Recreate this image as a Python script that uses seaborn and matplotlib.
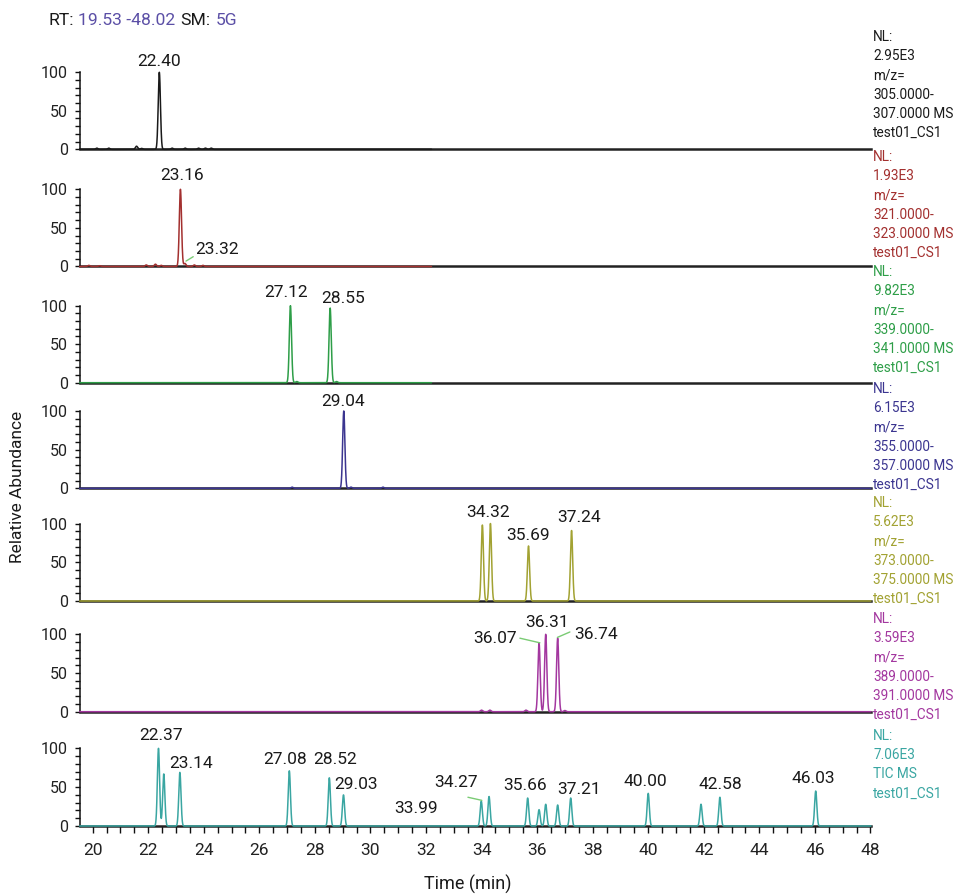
import numpy as np
import pandas as pd
import matplotlib
matplotlib.use("Agg")
import matplotlib.pyplot as plt
from matplotlib.ticker import MultipleLocator
import seaborn as sns

# ---- run window ----
rt_start, rt_end = 19.53, 48.02
smoothing = "5G"

# ---- peak tables: retention time (min) and relative abundance (%) ----
rt_305 = [20.15, 20.58, 21.58, 21.76, 22.40, 22.86, 23.33, 23.81, 24.06, 24.27]
ab_305 = [1.5, 1.5, 4.0, 1.2, 100, 1.5, 1.5, 1.5, 1.5, 1.5]

rt_321 = [19.86, 20.25, 21.93, 22.26, 22.47, 23.16, 23.32, 23.66, 23.97]
ab_321 = [1.5, 1.0, 2.0, 3.0, 1.5, 100, 4.0, 2.0, 1.5]

rt_339 = [27.12, 27.35, 28.55, 28.78]
ab_339 = [100, 1.5, 97, 1.5]

rt_355 = [27.18, 29.04, 29.30, 30.45]
ab_355 = [1.5, 100, 1.5, 1.5]

rt_373 = [34.03, 34.32, 35.69, 37.24]
ab_373 = [98, 100, 71, 91]

rt_389 = [34.00, 34.30, 35.60, 36.07, 36.31, 36.74, 37.00]
ab_389 = [2.0, 2.0, 2.0, 89, 100, 95, 1.5]

rt_tic = [22.37, 22.56, 23.14, 27.08, 28.52, 29.03, 33.99, 34.27, 35.66,
          36.07, 36.31, 36.74, 37.21, 40.00, 41.90, 42.58, 46.03]
ab_tic = [100, 67, 69, 71, 62, 40, 32, 38, 36, 21, 28, 27, 36, 42, 28, 37, 45]

# labelled peaks per trace
lab_305 = [22.40]
lab_321 = [23.16, 23.32]
lab_339 = [27.12, 28.55]
lab_355 = [29.04]
lab_373 = [34.32, 35.69, 37.24]
lab_389 = [36.07, 36.31, 36.74]
lab_tic = [22.37, 23.14, 27.08, 28.52, 29.03, 33.99, 34.27, 35.66, 37.21,
           40.00, 42.58, 46.03]

# last recorded scan of each trace (min)
scan_end = [32.2, 32.2, 32.2, 48.02, 48.02, 48.02, 48.02]

# normalisation levels and mass ranges
nl_levels = ["2.95E3", "1.93E3", "9.82E3", "6.15E3", "5.62E3", "3.59E3", "7.06E3"]
mz_low = ["305.0000", "321.0000", "339.0000", "355.0000", "373.0000", "389.0000", None]
mz_high = ["307.0000", "323.0000", "341.0000", "357.0000", "375.0000", "391.0000", None]
file_name = "test01_CS1"

# ---- styling / layout ----
colors = ["#1a1a1a", "#a3302f", "#2e9e48", "#3b3590", "#a2a232", "#a3379f", "#3aa6a2"]
header_blue = "#5b4fa6"
leader_green = "#7acb74"

W, H = 955, 896
X0, X1 = 79.6, 871.0
tops = [72.3, 189.3, 305.7, 411.0, 523.5, 634.3, 748.3]
bases = [149.3, 266.5, 382.7, 488.3, 601.0, 711.7, 826.0]
info_y = [37, 157, 272, 389, 503, 619, 736]
info_step = 19.2
sigma = 0.04

# label centres (min, %) where a label sits off its peak, plus leader lines
label_pos = {
    (1, 23.16): ((23.21, 118), None),
    (1, 23.32): ((24.47, 22), ((23.36, 7), (23.62, 12.7))),
    (2, 27.12): ((26.95, 117), None),
    (2, 28.55): ((29.02, 109.5), None),
    (3, 29.04): ((29.02, 112), None),
    (4, 34.32): ((34.22, 114), None),
    (4, 37.24): ((37.50, 107.5), None),
    (5, 36.07): ((34.48, 95), ((35.38, 95), (36.10, 89))),
    (5, 36.31): ((36.36, 115), None),
    (5, 36.74): ((38.11, 100), ((36.73, 96), (37.18, 103))),
    (6, 22.37): ((22.45, 117), None),
    (6, 23.14): ((23.53, 80), None),
    (6, 27.08): ((26.92, 86), None),
    (6, 28.52): ((28.73, 86), None),
    (6, 29.03): ((29.48, 53), None),
    (6, 33.99): ((31.63, 22), None),
    (6, 34.27): ((33.08, 56), ((33.51, 37), (34.01, 33))),
    (6, 35.66): ((35.56, 52), None),
    (6, 37.21): ((37.51, 47.6), None),
    (6, 40.00): ((39.89, 57), None),
    (6, 42.58): ((42.59, 53), None),
    (6, 46.03): ((45.94, 60.5), None),
}

sns.set_theme(style="white")
plt.rcParams["font.family"] = ["Roboto", "DejaVu Sans"]

traces = [
    (rt_305, ab_305, lab_305), (rt_321, ab_321, lab_321), (rt_339, ab_339, lab_339),
    (rt_355, ab_355, lab_355), (rt_373, ab_373, lab_373), (rt_389, ab_389, lab_389),
    (rt_tic, ab_tic, lab_tic),
]

fig = plt.figure(figsize=(W / 100, H / 100), dpi=100)
fig.patch.set_facecolor("white")
grid = np.linspace(rt_start, rt_end, 8000)
axes = []

for i, (rts, abs_, labs) in enumerate(traces):
    rect = [X0 / W, 1 - bases[i] / H, (X1 - X0) / W, (bases[i] - tops[i]) / H]
    ax = fig.add_axes(rect)
    ax.set_facecolor("none")
    axes.append(ax)

    t = grid[grid <= scan_end[i]]
    y = np.zeros_like(t)
    for r, a in zip(rts, abs_):
        y += a * np.exp(-0.5 * ((t - r) / sigma) ** 2)
    df = pd.DataFrame({"time": t, "abundance": y})
    sns.lineplot(data=df, x="time", y="abundance", ax=ax, color=colors[i],
                 lw=1.1, estimator=None, zorder=3)
    for ln in ax.lines:
        ln.set_clip_on(False)

    ax.set_xlim(rt_start, rt_end)
    ax.set_ylim(0, 100)
    ax.set_xlabel("")
    ax.set_ylabel("")
    for s in ("top", "right"):
        ax.spines[s].set_visible(False)
    ax.spines["left"].set_color("#111111")
    ax.spines["left"].set_linewidth(1.1)
    ax.spines["bottom"].set_color("#222222")
    ax.spines["bottom"].set_linewidth(1.8)
    ax.spines["bottom"].set_zorder(2)

    ax.yaxis.set_major_locator(MultipleLocator(50))
    ax.yaxis.set_minor_locator(MultipleLocator(10))
    ax.tick_params(axis="y", which="both", direction="out", length=3.8, width=1.0,
                   color="#111111", left=True, labelsize=11.5, pad=4.5,
                   labelcolor="#222222")

    if i == len(traces) - 1:
        ax.xaxis.set_major_locator(MultipleLocator(2))
        ax.xaxis.set_minor_locator(MultipleLocator(0.5))
        ax.tick_params(axis="x", which="both", direction="out", length=5, width=1.0,
                       color="#111111", bottom=True, labelsize=12.5, pad=7,
                       labelcolor="#222222")
    else:
        ax.tick_params(axis="x", which="both", bottom=False, labelbottom=False)

    # peak labels
    for r in labs:
        h = abs_[rts.index(r)]
        pos, leader = label_pos.get((i, r), ((r, h + 14), None))
        ax.text(pos[0], pos[1], f"{r:.2f}", ha="center", va="center",
                fontsize=12.5, color="#1a1a1a", clip_on=False, zorder=5)
        if leader is not None:
            (xa, ya), (xb, yb) = leader
            ax.plot([xa, xb], [ya, yb], color=leader_green, lw=1.0,
                    clip_on=False, zorder=4)

    # trace description at the right
    if mz_low[i] is not None:
        lines = ["NL:", nl_levels[i], "m/z=", f"{mz_low[i]}-", f"{mz_high[i]} MS", file_name]
    else:
        lines = ["NL:", nl_levels[i], "TIC MS", file_name]
    for k, line in enumerate(lines):
        fig.text(873 / W, 1 - (info_y[i] + k * info_step) / H, line, ha="left",
                 va="center", fontsize=9.8, color=colors[i])

# header: run window and smoothing, chained piece by piece
anchor = fig.text(48 / W, 1 - 25 / H, "RT:", ha="left", va="baseline",
                  fontsize=12.6, color="#1a1a1a")
pieces = [(f"{rt_start:.2f} -{rt_end:.2f}", header_blue), ("SM:", "#1a1a1a"),
          (smoothing, header_blue)]
for txt, col in pieces:
    anchor = axes[0].annotate(txt, xy=(1, 0), xycoords=anchor, xytext=(3.5, 0),
                              textcoords="offset points", fontsize=12.6, color=col,
                              ha="left", va="bottom", annotation_clip=False)

fig.text(17 / W, 1 - 487 / H, "Relative Abundance", rotation=90, ha="center",
         va="center", fontsize=12.5, color="#1a1a1a")
fig.text(468 / W, 1 - 884 / H, "Time (min)", ha="center", va="center",
         fontsize=13, color="#1a1a1a")

fig.savefig("out.png", dpi=100, facecolor="white")
